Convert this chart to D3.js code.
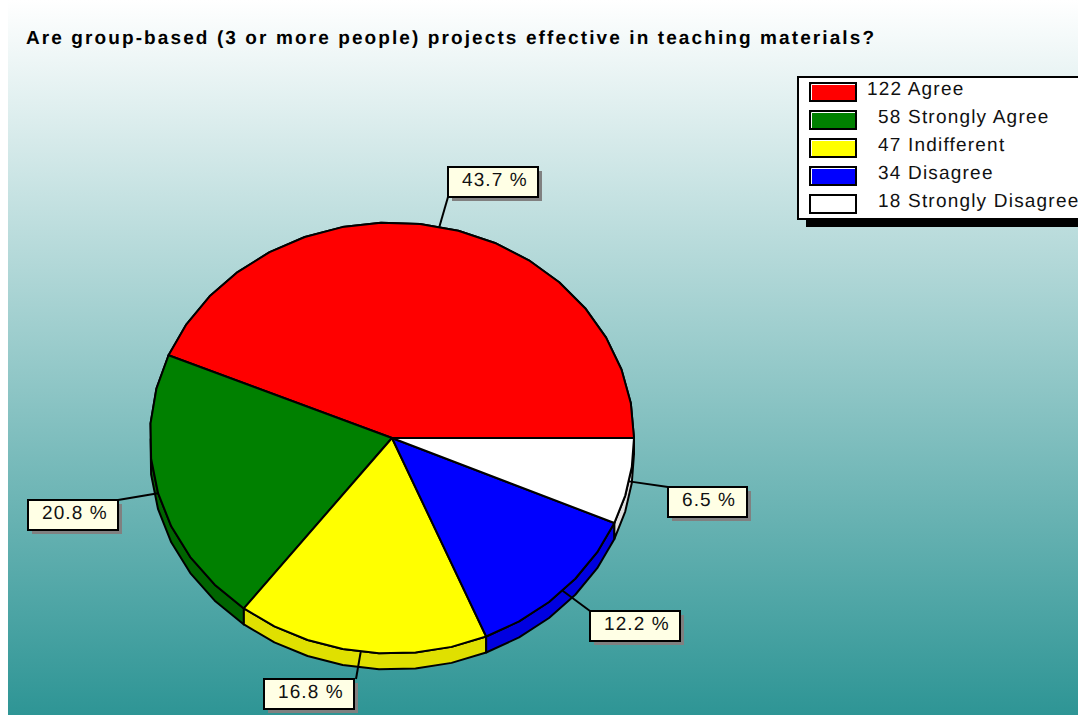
<!DOCTYPE html>
<html>
<head>
<meta charset="utf-8">
<script src="https://cdn.jsdelivr.net/npm/d3@7"></script>
<style>
html, body { margin: 0; padding: 0; background: #fff; overflow: hidden; }
text { font-family: "Liberation Sans", Arial, sans-serif; fill: #111; text-rendering: geometricPrecision; }
</style>
</head>
<body>
<div id="container"></div>
<script>
var titleText = 'Are group-based (3 or more people) projects effective in teaching materials?';
var categories = ['Agree', 'Strongly Agree', 'Indifferent', 'Disagree', 'Strongly Disagree'];
var counts = [122, 58, 47, 34, 18];
var percentLabels = ['43.7 %', '20.8 %', '16.8 %', '12.2 %', '6.5 %'];
var topColors = ['#ff0000', '#008000', '#ffff00', '#0000ff', '#ffffff'];
var sideColors = ['#e00000', '#006400', '#e0e000', '#0000e0', '#e0e0e0'];
// top left corner, width and leader end of each callout box
var calloutPos = [[448, 167], [28, 500], [264, 679], [590, 611], [668, 487]];
var calloutWidth = [90, 90, 90, 90, 79];
var calloutEnd = [[448, 197], [118, 500], [356, 679], [590, 611], [668, 487]];

var width = 1078,
    height = 715,
    cx = 392,
    cy = 438,
    rx = 242,
    ry = 215.5,
    depth = 16;

var svg = d3.select('#container')
    .append('svg')
    .attr('width', width)
    .attr('height', height)
    .style('display', 'block');

var grad = svg.append('defs').append('linearGradient')
    .attr('id', 'bg')
    .attr('x1', 0).attr('y1', 0)
    .attr('x2', 0).attr('y2', 1);
grad.append('stop').attr('offset', 0).attr('stop-color', '#ffffff');
grad.append('stop').attr('offset', 1).attr('stop-color', '#2e9595');

svg.append('rect')
    .attr('x', 8)
    .attr('y', 0)
    .attr('width', width - 8)
    .attr('height', height)
    .attr('fill', 'url(#bg)');

svg.append('text')
    .attr('x', 26)
    .attr('y', 44)
    .style('font-size', '19px')
    .style('font-weight', 'bold')
    .style('letter-spacing', '2.1px')
    .style('fill', '#000')
    .text(titleText);

// unit circle to pixels
var x = d3.scaleLinear().domain([-1, 1]).range([cx - rx, cx + rx]);
var y = d3.scaleLinear().domain([-1, 1]).range([cy + ry, cy - ry]);

// counter clockwise from 3 o'clock
var pie = d3.pie()
    .sort(null)
    .startAngle(Math.PI / 2)
    .endAngle(Math.PI / 2 - 2 * Math.PI);
var arcs = pie(counts);

// the rim is a polygon with roughly 9 degree facets
function rimPoints(d) {
    var steps = Math.round(Math.abs(d.endAngle - d.startAngle) / (Math.PI / 20));
    return d3.range(steps + 1).map(function(i) {
        var a = d.startAngle + (d.endAngle - d.startAngle) * i / steps;
        return [x(Math.sin(a)), y(Math.cos(a))];
    });
}

var line = d3.line();

// sides, only the front half shows once the tops are on
var chart = svg.append('g');
chart.selectAll('path.side')
    .data(arcs)
    .enter()
    .append('path')
    .attr('class', 'side')
    .attr('d', function(d) {
        var rim = rimPoints(d);
        var lower = rim.map(function(p) { return [p[0], p[1] + depth]; }).reverse();
        return line(rim.concat(lower)) + 'Z';
    })
    .attr('fill', function(d, i) { return sideColors[i]; })
    .attr('stroke', '#000')
    .attr('stroke-width', 2)
    .attr('stroke-linejoin', 'round');

chart.selectAll('path.top')
    .data(arcs)
    .enter()
    .append('path')
    .attr('class', 'top')
    .attr('d', function(d) {
        return line([[x(0), y(0)]].concat(rimPoints(d))) + 'Z';
    })
    .attr('fill', function(d, i) { return topColors[i]; })
    .attr('stroke', '#000')
    .attr('stroke-width', 2)
    .attr('stroke-linejoin', 'round');

// callouts
var callouts = svg.append('g');
callouts.selectAll('line')
    .data(arcs)
    .enter()
    .append('line')
    .attr('x1', function(d) {
        return x(Math.sin((d.startAngle + d.endAngle) / 2));
    })
    .attr('y1', function(d) {
        return y(Math.cos((d.startAngle + d.endAngle) / 2));
    })
    .attr('x2', function(d, i) { return calloutEnd[i][0]; })
    .attr('y2', function(d, i) { return calloutEnd[i][1]; })
    .attr('stroke', '#000')
    .attr('stroke-width', 2);

var box = callouts.selectAll('g')
    .data(percentLabels)
    .enter()
    .append('g')
    .attr('transform', function(d, i) {
        return 'translate(' + calloutPos[i] + ')';
    });
box.append('rect')
    .attr('x', 4).attr('y', 4)
    .attr('width', function(d, i) { return calloutWidth[i]; })
    .attr('height', 30)
    .attr('fill', '#808080');
box.append('rect')
    .attr('width', function(d, i) { return calloutWidth[i]; })
    .attr('height', 30)
    .attr('fill', '#ffffe5')
    .attr('stroke', '#000')
    .attr('stroke-width', 2);
box.append('text')
    .attr('x', 14)
    .attr('y', 18.5)
    .style('font-size', '19px')
    .style('letter-spacing', '1.1px')
    .text(function(d) { return d; });

// legend
var legend = svg.append('g');
legend.append('rect')
    .attr('x', 806).attr('y', 85)
    .attr('width', width - 806).attr('height', 142)
    .attr('fill', '#000');
legend.append('rect')
    .attr('x', 798).attr('y', 77)
    .attr('width', width - 798 + 4).attr('height', 142)
    .attr('fill', '#fff')
    .attr('stroke', '#000')
    .attr('stroke-width', 2);

var row = legend.selectAll('g.row')
    .data(categories)
    .enter()
    .append('g')
    .attr('class', 'row')
    .attr('transform', function(d, i) {
        return 'translate(0,' + (i * 28) + ')';
    });
row.append('rect')
    .attr('x', 810).attr('y', 83)
    .attr('width', 46).attr('height', 18)
    .attr('fill', function(d, i) { return topColors[i]; })
    .attr('stroke', '#000')
    .attr('stroke-width', 2);
// small highlight along the top and left of each swatch
row.append('path')
    .attr('d', 'M811.5,100V84.5H855')
    .attr('fill', 'none')
    .attr('stroke', '#fff')
    .attr('stroke-width', 1);
row.append('text')
    .attr('x', function(d, i) {
        return 867 + (3 - String(counts[i]).length) * 11;
    })
    .attr('y', 95)
    .style('font-size', '19px')
    .style('letter-spacing', '1.2px')
    .text(function(d, i) { return counts[i] + ' ' + d; });
</script>
</body>
</html>
